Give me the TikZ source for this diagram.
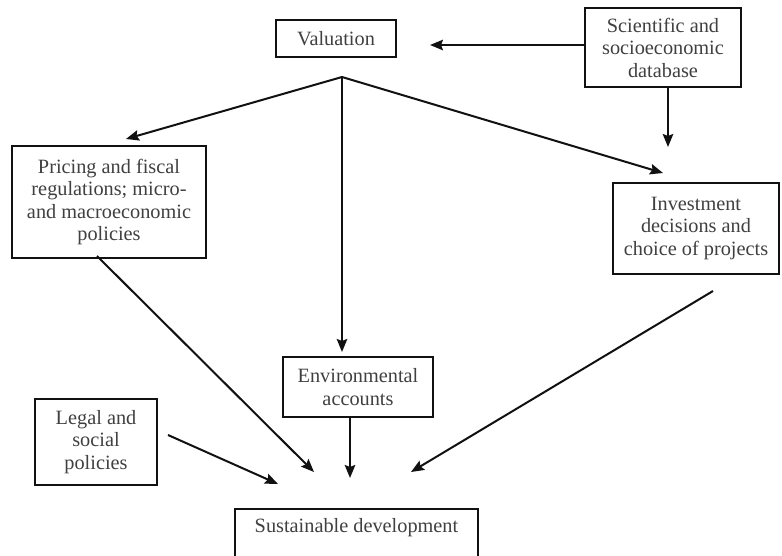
\documentclass[tikz,border=0pt]{standalone}
\usepackage{fontspec}
\setmainfont{Liberation Serif}
\usetikzlibrary{arrows.meta,calc}
\definecolor{ink}{HTML}{111111}
\definecolor{txt}{HTML}{404040}
\newcommand{\boxfont}{\fontsize{20.3}{22.5}\selectfont}

\begin{document}
\begin{tikzpicture}[x=1pt,y=-1pt,font=\boxfont,
  box/.style={draw=ink,line width=1.9pt,text=txt,align=center,inner sep=0,fill=white},
  arr/.style={ink,line width=2pt,-{Stealth[length=13pt,width=10.5pt,inset=2pt]}}]
\clip (0,0) rectangle (782,556);
\fill[white] (0,0) rectangle (782,556);
% boxes
\node[box,minimum width=120,minimum height=37] (val) at (336,38.5) {Valuation};
\node[box,minimum width=156,minimum height=79] (sci) at (663,47.5) {Scientific and\\socioeconomic\\database};
\node[box,minimum width=194,minimum height=112] (price) at (109,202) {Pricing and fiscal\\regulations; micro-\\and macroeconomic\\policies};
\node[box,minimum width=166,minimum height=91] (invest) at (696,228.5) {Investment\\decisions and\\choice of projects};
\node[box,minimum width=150,minimum height=60] (env) at (358,387) {Environmental\\accounts};
\node[box,minimum width=122,minimum height=86] (legal) at (96,442) {Legal and\\social\\policies};
\node[box,anchor=north,minimum width=243,text height=24pt,text depth=40pt] (sust) at (356.5,508) {Sustainable development};
% free ends of the connectors
\coordinate (valin) at (430,45);
\coordinate (invtop) at (668,147);
\coordinate (split) at (342,77);
\coordinate (pricein) at (126,139);
\coordinate (invin) at (663,173);
\coordinate (envin) at (342,352);
\coordinate (pricefoot) at (97,256);
\coordinate (investfoot) at (713,291);
\coordinate (legalout) at (168,435);
\coordinate (sustA) at (278,484);
\coordinate (sustB) at (314,472);
\coordinate (sustC) at (350,478);
\coordinate (sustD) at (411,472);
% connectors
\draw[arr] (sci.west |- valin) -- (valin);
\draw[arr] (sci.south -| invtop) -- (invtop);
\draw[arr] (split) -- (pricein);
\draw[arr] (split) -- (invin);
\draw[arr] (split) -- (envin);
\draw[arr] (pricefoot) -- (sustB);
\draw[arr] (legalout) -- (sustA);
\draw[arr] (env.south -| sustC) -- (sustC);
\draw[arr] (investfoot) -- (sustD);
\end{tikzpicture}
\end{document}
